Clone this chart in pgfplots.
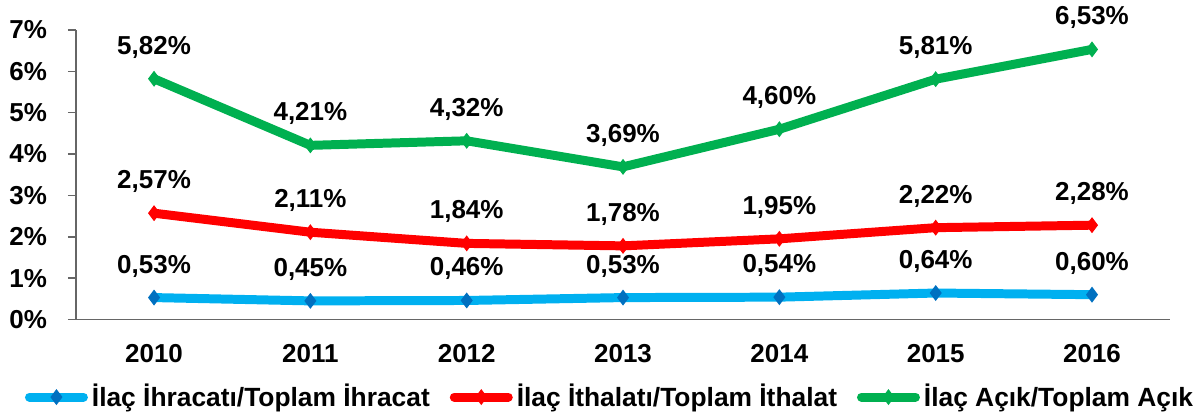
\documentclass[border=0pt]{standalone}
\usepackage{fontspec}
\setmainfont{Liberation Sans}
\usepackage{pgfplots}
\pgfplotsset{compat=1.18}
\definecolor{cblue}{HTML}{00B0F0}
\definecolor{cbluedark}{HTML}{0070C0}
\definecolor{cred}{HTML}{FF0000}
\definecolor{cgreen}{HTML}{00B050}
\begin{document}
\bfseries
\begin{tikzpicture}
\begin{axis}[
    width=548pt, height=145pt,
    scale only axis,
    xmin=-0.5, xmax=6.5,
    ymin=0, ymax=7,
    xtick={0,...,6},
    xticklabels={2010,2011,2012,2013,2014,2015,2016},
    extra x ticks={-0.5,0.5,...,6.5},
    extra x tick labels={},
    extra x tick style={major tick length=5pt, tick style={draw=gray!80!black, line width=0.8pt}},
    ytick={0,...,7},
    yticklabels={0\%,1\%,2\%,3\%,4\%,5\%,6\%,7\%},
    axis x line*=bottom, axis y line*=left,
    axis line style={gray!80!black, line width=0.8pt, -},
    x tick style={draw=none},
    y tick style={draw=gray!80!black, line width=0.8pt},
    tick align=outside, major tick length=4pt,
    tick label style={font=\fontsize{13}{15}\selectfont\bfseries},
    xticklabel style={yshift=-5pt},
    yticklabel style={xshift=-7pt},
    /pgf/number format/assume math mode=true,
    clip=false,
    nodes near coords,
    point meta=explicit symbolic,
    every node near coord/.style={font=\fontsize{13}{15}\selectfont\bfseries, anchor=south, inner sep=0pt, yshift=10pt, text=black},
    legend style={at={(0.489,-0.21)}, anchor=north, draw=none, legend columns=3,
        font=\fontsize{13.2}{15}\selectfont\bfseries, inner sep=0pt, outer sep=0pt,
        /tikz/every even column/.append style={column sep=8pt}},
    legend image code/.code={
        \draw[#1, mark=none, line cap=round] (0cm,0cm) -- (0.95cm,0cm);
        \draw[#1, only marks] plot coordinates {(0.475cm,0cm)};
    },
]
\addplot[cblue, line width=4.5pt, mark=diamond*, mark size=3.6pt,
    mark options={fill=cbluedark, draw=cbluedark, line width=0.5pt}]
    coordinates {(0,0.53)[0,53\%] (1,0.45)[0,45\%] (2,0.46)[0,46\%] (3,0.53)[0,53\%] (4,0.54)[0,54\%] (5,0.64)[0,64\%] (6,0.60)[0,60\%]};
\addlegendentry{İlaç İhracatı/Toplam İhracat}
\addplot[cred, line width=4.5pt, mark=diamond*, mark size=3.6pt,
    mark options={fill=cred, draw=cred, line width=0.5pt}]
    coordinates {(0,2.57)[2,57\%] (1,2.11)[2,11\%] (2,1.84)[1,84\%] (3,1.78)[1,78\%] (4,1.95)[1,95\%] (5,2.22)[2,22\%] (6,2.28)[2,28\%]};
\addlegendentry{İlaç İthalatı/Toplam İthalat}
\addplot[cgreen, line width=4.5pt, mark=diamond*, mark size=3.6pt,
    mark options={fill=cgreen, draw=cgreen, line width=0.5pt}]
    coordinates {(0,5.82)[5,82\%] (1,4.21)[4,21\%] (2,4.32)[4,32\%] (3,3.69)[3,69\%] (4,4.60)[4,60\%] (5,5.81)[5,81\%] (6,6.53)[6,53\%]};
\addlegendentry{İlaç Açık/Toplam Açık}
\end{axis}
% margins of the page
\path (current axis.north west) ++(-38pt,15pt);
\path (current axis.south east) ++(11.5pt,0);
\end{tikzpicture}
\end{document}
